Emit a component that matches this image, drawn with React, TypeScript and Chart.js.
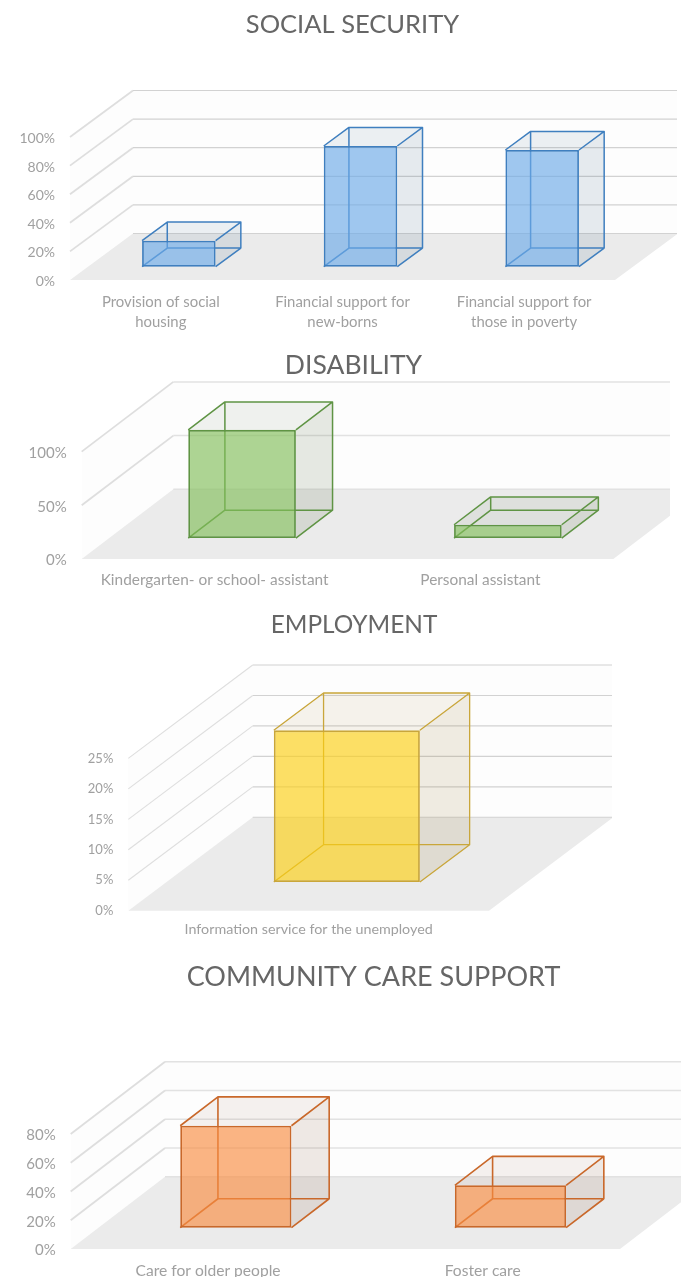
import React, { useEffect, useRef } from "react";
import { Chart, registerables } from "chart.js";

Chart.register(...registerables);

// Survey shares per service, in percent.
const socialSecurityLabels = [
  ["Provision of social", "housing"],
  ["Financial support for", "new-borns"],
  ["Financial support for", "those in poverty"],
];
const socialSecurityValues = [18.2, 84.4, 81.6];

const disabilityLabels = ["Kindergarten- or school- assistant", "Personal assistant"];
const disabilityValues = [100.8, 12.4];

const employmentLabels = ["Information service for the unemployed"];
const employmentValues = [24.9];

const communityCareLabels = ["Care for older people", "Foster care"];
const communityCareValues = [70.9, 29.5];

const FONT = "Lato, 'Open Sans', sans-serif";

// Extruded column box, wall grid and floor, all derived from the chart's own scales.
const box3dPlugin = {
  id: "box3d",
  beforeDatasetsDraw(chart: any, _args: any, o: any) {
    const { ctx, chartArea, scales } = chart;
    const { left, right, bottom, top } = chartArea;
    const y = scales.y;
    const dx = o.depthX;
    const dy = o.depthY;
    const wallBottom = bottom - dy;
    const wallTop = top - dy;

    ctx.save();
    ctx.beginPath();
    ctx.rect(0, 0, o.wallRight, chart.height);
    ctx.clip();

    // side wall and back wall
    ctx.fillStyle = "#fdfdfd";
    ctx.beginPath();
    ctx.moveTo(left, bottom);
    ctx.lineTo(left + dx, wallBottom);
    ctx.lineTo(right + dx, wallBottom);
    ctx.lineTo(right + dx, wallTop);
    ctx.lineTo(left + dx, wallTop);
    ctx.lineTo(left, top);
    ctx.closePath();
    ctx.fill();

    // floor
    ctx.fillStyle = "#ebebeb";
    ctx.beginPath();
    ctx.moveTo(left, bottom);
    ctx.lineTo(left + dx, wallBottom);
    ctx.lineTo(right + dx, wallBottom);
    ctx.lineTo(right, bottom);
    ctx.closePath();
    ctx.fill();

    // grid lines run across the back wall and down the side wall
    for (const tick of y.ticks) {
      const py = y.getPixelForValue(tick.value);
      ctx.strokeStyle = o.gridColor;
      ctx.lineWidth = o.gridWidth;
      ctx.beginPath();
      ctx.moveTo(left + dx, py - dy);
      ctx.lineTo(right + dx, py - dy);
      ctx.stroke();
      if (tick.value !== 0) {
        ctx.strokeStyle = "#dedede";
        ctx.lineWidth = o.sideWidth;
        ctx.beginPath();
        ctx.moveTo(left, py);
        ctx.lineTo(left + dx, py - dy);
        ctx.stroke();
      }
    }
    ctx.restore();

    const ox = dx * o.start;
    const oy = dy * o.start;
    const bx = dx * o.thickness;
    const by = dy * o.thickness;

    ctx.save();
    ctx.translate(ox, -oy);
    const bars = chart.getDatasetMeta(0).data;
    for (const bar of bars) {
      const L = bar.x - bar.width / 2;
      const R = bar.x + bar.width / 2;
      const T = bar.y;
      const B = bar.base;

      ctx.fillStyle = o.topFill;
      ctx.beginPath();
      ctx.moveTo(L, T);
      ctx.lineTo(R, T);
      ctx.lineTo(R + bx, T - by);
      ctx.lineTo(L + bx, T - by);
      ctx.closePath();
      ctx.fill();

      ctx.fillStyle = o.sideFill;
      ctx.beginPath();
      ctx.moveTo(R, T);
      ctx.lineTo(R + bx, T - by);
      ctx.lineTo(R + bx, B - by);
      ctx.lineTo(R, B);
      ctx.closePath();
      ctx.fill();

      ctx.strokeStyle = o.edge;
      ctx.lineWidth = o.edgeWidth;
      ctx.lineJoin = "round";
      ctx.beginPath();
      ctx.rect(L + bx, T - by, R - L, B - T);
      ctx.moveTo(L, T);
      ctx.lineTo(L + bx, T - by);
      ctx.moveTo(R, T);
      ctx.lineTo(R + bx, T - by);
      ctx.moveTo(R, B);
      ctx.lineTo(R + bx, B - by);
      ctx.moveTo(L, B);
      ctx.lineTo(L + bx, B - by);
      ctx.stroke();
    }
    // the columns' front faces are painted by the bar controller in this shifted frame
  },
  afterDatasetsDraw(chart: any) {
    chart.ctx.restore();
  },
  afterLayout(chart: any, _args: any, o: any) {
    // centre the heading on its own axis rather than on the full canvas
    const block = chart.titleBlock;
    if (block) {
      block.left = o.titleCenter - 300;
      block.right = o.titleCenter + 300;
    }
  },
};

type Spec = {
  title: string;
  titleSize: number;
  labels: any[];
  values: number[];
  max: number;
  step: number;
  canvasTop: number;
  canvasBottom: number;
  titleY: number;
  titleCenter: number;
  plotLeft: number;
  plotRight: number;
  plotTop: number;
  plotBottom: number;
  depthX: number;
  depthY: number;
  wallRight: number;
  start: number;
  labelSize: number;
  yLabelSize: number;
  yLabelShift: number;
  xPad: number;
  gridColor: string;
  gridWidth: number;
  sideWidth: number;
  edgeWidth: number;
  front: string;
  edge: string;
  topFill: string;
  sideFill: string;
};

const specs: Spec[] = [
  {
    title: "SOCIAL SECURITY",
    titleSize: 25.5,
    labels: socialSecurityLabels,
    values: socialSecurityValues,
    max: 100,
    step: 20,
    canvasTop: 0,
    canvasBottom: 345,
    titleY: 25,
    titleCenter: 352.5,
    plotLeft: 70,
    plotRight: 615,
    plotTop: 137,
    plotBottom: 280,
    depthX: 63,
    depthY: 46.5,
    wallRight: 677,
    start: 0.286,
    labelSize: 14.9,
    yLabelSize: 14,
    yLabelShift: 1.5,
    xPad: 4,
    gridColor: "#d2d2d2",
    gridWidth: 1.2,
    sideWidth: 1.8,
    edgeWidth: 1.5,
    front: "rgba(109,171,232,0.65)",
    edge: "#3f7fbf",
    topFill: "rgba(60,100,130,0.09)",
    sideFill: "rgba(60,100,135,0.12)",
  },
  {
    title: "DISABILITY",
    titleSize: 26.5,
    labels: disabilityLabels,
    values: disabilityValues,
    max: 100,
    step: 50,
    canvasTop: 345,
    canvasBottom: 605,
    titleY: 365,
    titleCenter: 353.5,
    plotLeft: 81.7,
    plotRight: 613.3,
    plotTop: 451.6,
    plotBottom: 559,
    depthX: 91.6,
    depthY: 69.7,
    wallRight: 670,
    start: 0.3,
    labelSize: 15.4,
    yLabelSize: 15,
    yLabelShift: 1.5,
    xPad: 3,
    gridColor: "#e2e2e2",
    gridWidth: 1.5,
    sideWidth: 1.8,
    edgeWidth: 1.5,
    front: "rgba(130,190,90,0.65)",
    edge: "#5f9444",
    topFill: "rgba(80,100,60,0.08)",
    sideFill: "rgba(70,90,50,0.13)",
  },
  {
    title: "EMPLOYMENT",
    titleSize: 24.4,
    labels: employmentLabels,
    values: employmentValues,
    max: 25,
    step: 5,
    canvasTop: 605,
    canvasBottom: 955,
    titleY: 625,
    titleCenter: 354,
    plotLeft: 128.3,
    plotRight: 489,
    plotTop: 758.4,
    plotBottom: 910.7,
    depthX: 124.4,
    depthY: 93.4,
    wallRight: 612,
    start: 0.307,
    labelSize: 14.3,
    yLabelSize: 13,
    yLabelShift: 0,
    xPad: 1,
    gridColor: "#d2d2d2",
    gridWidth: 1.1,
    sideWidth: 1.1,
    edgeWidth: 1.3,
    front: "rgba(252,208,20,0.65)",
    edge: "#c9a63a",
    topFill: "rgba(170,130,50,0.09)",
    sideFill: "rgba(150,115,40,0.13)",
  },
  {
    title: "COMMUNITY CARE SUPPORT",
    titleSize: 27,
    labels: communityCareLabels,
    values: communityCareValues,
    max: 80,
    step: 20,
    canvasTop: 955,
    canvasBottom: 1277,
    titleY: 977,
    titleCenter: 373.5,
    plotLeft: 70.7,
    plotRight: 620,
    plotTop: 1134,
    plotBottom: 1249,
    depthX: 94.3,
    depthY: 72.3,
    wallRight: 681,
    start: 0.295,
    labelSize: 15.6,
    yLabelSize: 15,
    yLabelShift: 1.5,
    xPad: 4,
    gridColor: "#e2e2e2",
    gridWidth: 1.5,
    sideWidth: 1.8,
    edgeWidth: 1.6,
    front: "rgba(249,141,66,0.65)",
    edge: "#c9682a",
    topFill: "rgba(140,90,60,0.08)",
    sideFill: "rgba(130,80,50,0.12)",
  },
];

function Panel({ spec }: { spec: Spec }) {
  const ref = useRef<HTMLCanvasElement>(null);

  useEffect(() => {
    const lineHeight = spec.titleSize * 1.2;
    const padTop = spec.titleY - spec.canvasTop - lineHeight / 2;
    const padBottom = spec.plotTop - spec.canvasTop - padTop - lineHeight;
    const chart = new Chart(ref.current as HTMLCanvasElement, {
      type: "bar",
      data: {
        labels: spec.labels,
        datasets: [
          {
            data: spec.values,
            backgroundColor: spec.front,
            borderColor: spec.edge,
            borderWidth: 1.8,
            borderSkipped: false,
            barPercentage: 0.405,
            categoryPercentage: 1,
            clip: false,
          } as any,
        ],
      },
      options: {
        responsive: false,
        animation: false,
        events: [],
        layout: {
          padding: {
            left: 0,
            top: 0,
            right: 681 - spec.plotRight,
            bottom: 0,
          },
        },
        scales: {
          x: {
            grid: { display: false },
            border: { display: false },
            ticks: {
              color: "#a0a0a0",
              font: { family: FONT, size: spec.labelSize, lineHeight: 20 / spec.labelSize },
              padding: spec.xPad,
              maxRotation: 0,
              minRotation: 0,
              autoSkip: false,
            },
            afterFit(scale: any) {
              scale.height = spec.canvasBottom - spec.plotBottom;
            },
          },
          y: {
            min: 0,
            max: spec.max,
            grid: { display: false },
            border: { display: false },
            ticks: {
              stepSize: spec.step,
              color: "#a0a0a0",
              font: { family: FONT, size: spec.yLabelSize },
              padding: 7,
              labelOffset: spec.yLabelShift,
              callback: (v: any) => `${v}%`,
            },
            afterFit(scale: any) {
              scale.width = spec.plotLeft;
            },
          },
        },
        plugins: {
          legend: { display: false },
          tooltip: { enabled: false },
          title: {
            display: true,
            text: spec.title,
            color: "#666666",
            font: { family: FONT, size: spec.titleSize, weight: "normal", lineHeight: 1.2 },
            padding: { top: padTop, bottom: padBottom },
          },
          box3d: {
            depthX: spec.depthX,
            depthY: spec.depthY,
            wallRight: spec.wallRight,
            start: spec.start,
            thickness: 0.4,
            edge: spec.edge,
            edgeWidth: spec.edgeWidth,
            gridColor: spec.gridColor,
            gridWidth: spec.gridWidth,
            sideWidth: spec.sideWidth,
            topFill: spec.topFill,
            sideFill: spec.sideFill,
            titleCenter: spec.titleCenter,
          },
        },
      } as any,
      plugins: [box3dPlugin as any],
    });
    return () => chart.destroy();
  }, [spec]);

  return (
    <canvas
      ref={ref}
      width={681}
      height={spec.canvasBottom - spec.canvasTop}
      style={{ position: "absolute", left: 0, top: spec.canvasTop, display: "block" }}
    />
  );
}

export default function App() {
  return (
    <div style={{ position: "absolute", left: 0, top: 0, width: 681, height: 1277, overflow: "hidden", background: "#fff" }}>
      {specs.map((s) => (
        <Panel key={s.title} spec={s} />
      ))}
    </div>
  );
}
